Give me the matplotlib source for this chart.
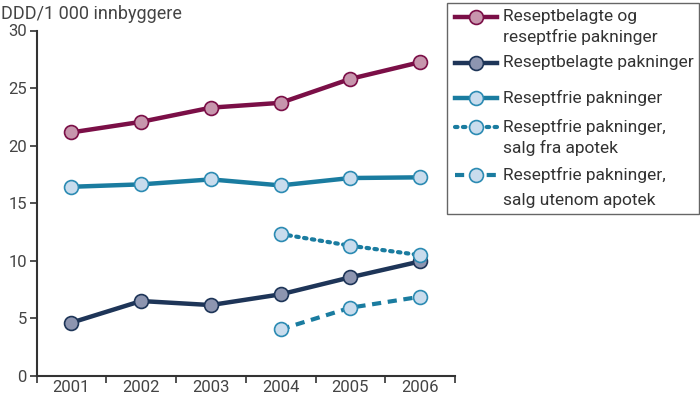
import matplotlib
matplotlib.use("Agg")
import matplotlib.pyplot as plt
from matplotlib.patches import Rectangle
import numpy as np

years = ["2001", "2002", "2003", "2004", "2005", "2006"]
total = [21.15, 22.07, 23.3, 23.72, 25.8, 27.25]
rx = [4.63, 6.51, 6.16, 7.09, 8.57, 9.95]
otc = [16.43, 16.64, 17.07, 16.55, 17.19, 17.25]
otc_pharm = [12.33, 11.31, 10.5]
otc_other = [4.05, 5.93, 6.88]
sub_years = ["2004", "2005", "2006"]

labels = ["Reseptbelagte og\nreseptfrie pakninger",
          "Reseptbelagte pakninger",
          "Reseptfrie pakninger",
          "Reseptfrie pakninger,\nsalg fra apotek",
          "Reseptfrie pakninger,\nsalg utenom apotek"]

plt.rcParams['font.family'] = ['Roboto', 'DejaVu Sans']

W, H = 700, 398
fig = plt.figure(figsize=(7, 3.98), dpi=100)
ax = fig.add_axes([36.5/W, 22/H, (455-36.5)/W, (376-30.5)/H])

x = np.arange(len(years))
xs = np.array([years.index(y) for y in sub_years])

red, red_f = "#7b0f47", "#c796ad"
navy, navy_f = "#1e3558", "#8d95b0"
teal, teal_f, teal_e = "#1a7ca0", "#c9dced", "#2c8bb3"

ms = 10
styles = [
    dict(color=red, lw=3.2, ls='-', mfc=red_f, mec=red),
    dict(color=navy, lw=3.2, ls='-', mfc=navy_f, mec=navy),
    dict(color=teal, lw=3.2, ls='-', mfc=teal_f, mec=teal_e),
    dict(color=teal, lw=3, ls=(0, (0.6, 1.3)), dash_capstyle='round', mfc=teal_f, mec=teal_e),
    dict(color=teal, lw=3, ls=(0, (2.2, 1.6)), mfc=teal_f, mec=teal_e),
]
series = [(x, total), (x, rx), (x, otc), (xs, otc_pharm), (xs, otc_other)]
for (xx, yy), st, z in zip(series, styles, [3, 3, 3, 4, 4]):
    ax.plot(xx, yy, marker='o', ms=ms, mew=1.2, zorder=z, **st)

ax.set_ylim(0, 30)
ax.set_xlim(-0.477, 5.40)
ax.set_yticks([0, 5, 10, 15, 20, 25, 30])
ax.set_xticks(x)
ax.set_xticklabels(years)
ax.set_xticks(np.arange(-0.5, 5.6, 1.0)[:7], minor=True)
ax.tick_params(axis='x', which='major', length=0, pad=3, labelsize=12, labelcolor="#444444")
ax.tick_params(axis='x', which='minor', length=5, width=1.2, color="#333333", direction='out')
ax.tick_params(axis='y', length=5, width=1.2, color="#333333", labelsize=12, labelcolor="#444444", pad=2)
for s in ['top', 'right']:
    ax.spines[s].set_visible(False)
for s in ['left', 'bottom']:
    ax.spines[s].set_color("#333333")
    ax.spines[s].set_linewidth(1.5)

fig.text(0.002, 0.988, "DDD/1 000 innbyggere", fontsize=13, color="#444444", ha='left', va='top')

# manual legend in pixel coordinates
lax = fig.add_axes([0, 0, 1, 1], zorder=10)
lax.set_xlim(0, W)
lax.set_ylim(H, 0)
lax.axis('off')
lax.add_patch(Rectangle((446.5, 2.5), 252, 211, fill=True, facecolor='white',
                        edgecolor="#666666", lw=1.0))
entry_y = [17, 63, 98, 127, 175]
line_h = [20, 20, 20, 21, 25]
for lab, st, yy, lh in zip(labels, styles, entry_y, line_h):
    lax.plot([455, 497], [yy, yy], **{k: v for k, v in st.items() if k not in ('mfc', 'mec')})
    lax.plot([476], [yy], marker='o', ms=ms, mew=1.2, mfc=st['mfc'], mec=st['mec'], ls='none')
    for i, part in enumerate(lab.split("\n")):
        lax.text(503, yy + i * lh, part, fontsize=12.5, color="#333333", ha='left', va='center')

fig.savefig("out.png", dpi=100)
